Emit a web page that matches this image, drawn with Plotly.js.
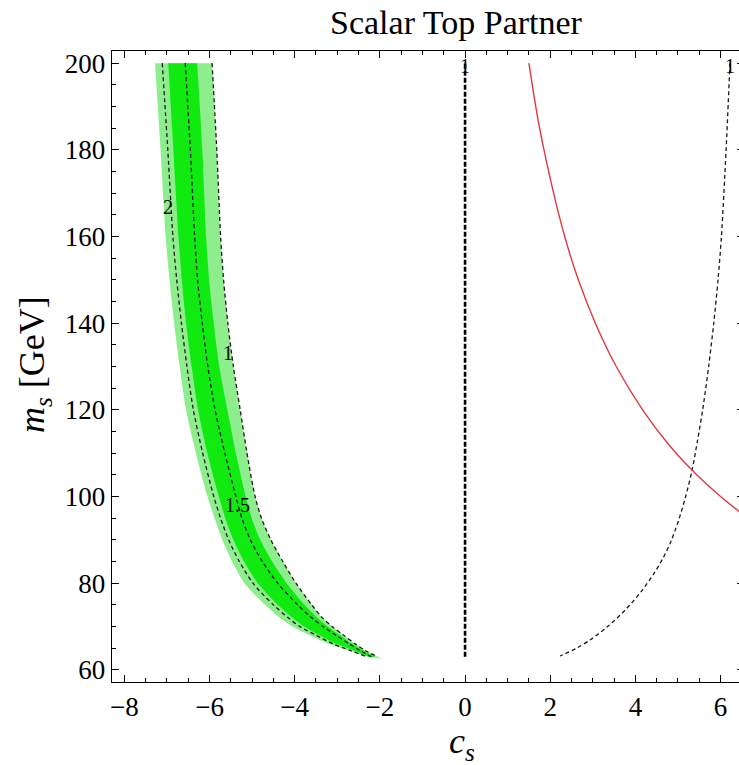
<!DOCTYPE html>
<html><head><meta charset="utf-8">
<script src="https://cdn.plot.ly/plotly-3.0.1.min.js"></script>
<style>html,body{margin:0;padding:0;overflow:hidden;background:#fff}</style>
</head><body><div id="chart" style="width:746px;height:765px"></div>
<script>
// Left band: shared m grid (GeV) and c_s values
const mBand = [200,180,160,150,140,130,120,110,100,95,90,85,80,75,72,70,68,66,64.5,63];
const cLightLeft  = [-7.28,-7.15,-7.03,-6.94,-6.83,-6.70,-6.55,-6.32,-6.05,-5.88,-5.70,-5.47,-5.18,-4.70,-4.35,-4.05,-3.65,-3.20,-2.75,-2.25];
const cContour2   = [-7.11,-6.98,-6.86,-6.77,-6.66,-6.53,-6.38,-6.16,-5.90,-5.74,-5.55,-5.30,-4.98,-4.50,-4.15,-3.88,-3.50,-3.10,-2.70,-2.30];
const cDarkLeft   = [-6.97,-6.85,-6.73,-6.65,-6.55,-6.42,-6.27,-6.05,-5.78,-5.63,-5.44,-5.19,-4.87,-4.40,-4.05,-3.78,-3.42,-3.02,-2.62,-2.25];
const cContour15  = [-6.57,-6.45,-6.35,-6.28,-6.17,-6.04,-5.87,-5.64,-5.38,-5.24,-5.04,-4.76,-4.40,-3.93,-3.60,-3.33,-3.03,-2.72,-2.47,-2.20];
const cDarkRight  = [-6.29,-6.17,-6.08,-6.01,-5.90,-5.77,-5.58,-5.38,-5.15,-5.01,-4.81,-4.53,-4.19,-3.77,-3.47,-3.23,-2.94,-2.65,-2.41,-2.12];
const cContour1L  = [-5.94,-5.83,-5.74,-5.67,-5.57,-5.44,-5.28,-5.12,-4.93,-4.78,-4.56,-4.28,-3.97,-3.60,-3.35,-3.12,-2.85,-2.58,-2.35,-2.05];
const tipC = -1.96, tipM = 62.6;

// Right dashed contour (value 1)
const mContour1R = [200,180,160,150,140,130,120,113,106,100,95,90,86,82,78,74,70,67,65,63.2];
const cContour1R = [6.22,6.13,6.02,5.94,5.84,5.72,5.58,5.46,5.33,5.18,5.03,4.85,4.66,4.42,4.13,3.78,3.35,2.95,2.62,2.23];

// Vertical contour at c_s = 0
const mVertical = [63,200];
const cVertical = [0,0];

// Red curve
const mRed = [200,185,170,160,150,140,130,120,112,105,100,96,93];
const cRed = [1.50,1.75,2.08,2.34,2.66,3.06,3.55,4.17,4.78,5.44,6.00,6.51,6.94];

// Contour labels
const labelText = ['2','1','1.5','1','1'];
const labelC = [-6.97,-5.56,-5.35,0,6.22];
const labelM = [166.7,133.1,98.1,199.3,199.3];

const dashStyle = {color:'#1a1a1a', width:1.3, dash:'4px,3px', shape:'spline', smoothing:0.8};

function polygon(leftC, rightC){
  const xs = leftC.slice(), ys = mBand.slice();
  xs.push(tipC); ys.push(tipM);
  for (let i = rightC.length-1; i >= 0; i--){ xs.push(rightC[i]); ys.push(mBand[i]); }
  return {xs, ys};
}
const light = polygon(cLightLeft, cContour1L);
const darkX = cDarkLeft.slice(), darkY = mBand.slice();
for (let i = cDarkRight.length-1; i >= 0; i--){ darkX.push(cDarkRight[i]); darkY.push(mBand[i]); }

const traces = [
  {x: light.xs, y: light.ys, mode:'lines', fill:'toself', fillcolor:'#8eee8e', line:{width:0, shape:'spline', smoothing:0.6}, hoverinfo:'skip'},
  {x: darkX, y: darkY, mode:'lines', fill:'toself', fillcolor:'#10ea10', line:{width:0, shape:'spline', smoothing:0.6}, hoverinfo:'skip'},
  {x: cContour2, y: mBand, mode:'lines', line:dashStyle},
  {x: cContour15, y: mBand, mode:'lines', line:dashStyle},
  {x: cContour1L, y: mBand, mode:'lines', line:dashStyle},
  {x: cContour1R, y: mContour1R, mode:'lines', line:dashStyle},
  {x: cVertical, y: mVertical, mode:'lines', line:{color:'#000', width:2.6, dash:'5px,2px'}},
  {x: cRed, y: mRed, mode:'lines', line:{color:'#dc3a40', width:1.4, shape:'spline', smoothing:1}}
];

const serif = 'Liberation Serif';
const W = 746, H = 765, L = 112, R = 2, T = 51, B = 83;
const pw = W-L-R, ph = H-T-B;

const annotations = labelText.map((t,i)=>({
  x: labelC[i], y: labelM[i], xref:'x', yref:'y', text:t, showarrow:false,
  font:{family:serif, size:20, color:'#000'}
}));
annotations.push({xref:'paper', yref:'paper', x:(462-L)/pw, y:(H-B-743)/ph, xanchor:'center', yanchor:'middle',
  text:'<i>c</i><sub><i>s</i></sub>', showarrow:false, font:{family:serif, size:36, color:'#000'}});
annotations.push({xref:'paper', yref:'paper', x:(34-L)/pw, y:(H-B-365)/ph, xanchor:'center', yanchor:'middle', textangle:-90,
  text:'<i>m</i><sub><i>s</i></sub> [GeV]', showarrow:false, font:{family:serif, size:36, color:'#000'}});

const axisCommon = {
  showgrid:false, zeroline:false, showline:true, linecolor:'#000', linewidth:1.3, mirror:'allticks',
  ticks:'inside', ticklen:7, tickwidth:1, tickcolor:'#000',
  tickfont:{family:serif, size:27, color:'#000'}
};
const layout = {
  width:W, height:H, margin:{l:L, r:R, t:T, b:B}, showlegend:false,
  paper_bgcolor:'#fff', plot_bgcolor:'#fff',
  title:{text:'Scalar Top Partner', font:{family:serif, size:34, color:'#000'}, xref:'container', yref:'container', x:456/W, xanchor:'center', y:1-22/H, yanchor:'middle'},
  xaxis:Object.assign({}, axisCommon, {range:[-8.29,6.55], tick0:-8, dtick:2,
    minor:{dtick:0.5, ticks:'inside', ticklen:4, tickcolor:'#000', showgrid:false}}),
  yaxis:Object.assign({}, axisCommon, {range:[57.2,202.8], tick0:60, dtick:20,
    minor:{dtick:5, ticks:'inside', ticklen:4, tickcolor:'#000', showgrid:false}}),
  annotations
};
Plotly.newPlot('chart', traces, layout, {displayModeBar:false, staticPlot:true});
</script></body></html>
